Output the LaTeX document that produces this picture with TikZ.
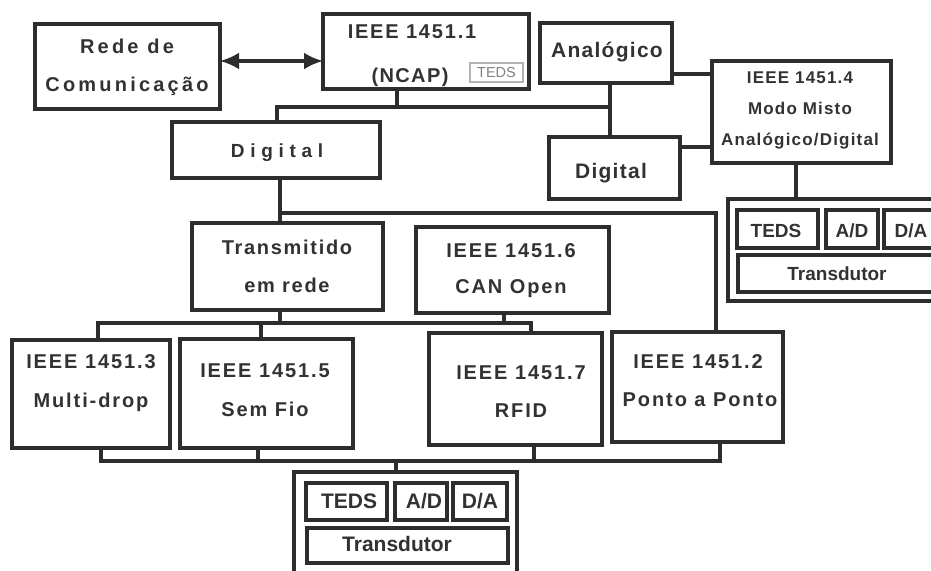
\documentclass[tikz,border=0pt]{standalone}
\usepackage{fontspec}
\setmainfont{Liberation Sans}
\usetikzlibrary{arrows.meta}
\definecolor{lc}{RGB}{45,45,45}
\definecolor{tc}{RGB}{50,50,50}
\newcommand\fs[2]{\fontsize{#1}{#1}\selectfont\bfseries\addfontfeatures{LetterSpace=#2}}
\newcommand\mkbox[6][]{\node[box,#1,minimum width={(#5-#3)*1pt},minimum height={(#6-#4)*1pt}] (#2) at ({(#3+#5)/2},{(#4+#6)/2}) {};}
\tikzset{
  box/.style={draw=lc, line width=3.4pt, inner sep=0pt, outer sep=0pt, rectangle},
  ln/.style={draw=lc, line width=3.4pt},
  tx/.style={text=tc, inner sep=0pt, anchor=base},
  biarrow/.style={{Latex[length=19pt,width=17pt]}-{Latex[length=19pt,width=17pt]}}
}
\begin{document}
\begin{tikzpicture}[x=1pt,y=-1pt]
\useasboundingbox (0,0) rectangle (931,570);
\clip (0,0) rectangle (931,570);
\fill[white] (0,0) rectangle (931,570);
% boxes
\mkbox{rede}{35}{24}{220}{109}
\mkbox{ncap}{323}{14}{529}{89}
\mkbox[draw=gray!60, line width=1.4pt]{tedsS}{470}{63}{523}{82}
\mkbox{analog}{540}{23}{672}{83}
\mkbox{dig1}{172}{122}{380}{178}
\mkbox{dig2}{549}{137}{680}{199}
\mkbox{m4}{712}{61}{891}{163}
\mkbox{rgO}{728}{199}{946}{301}
\mkbox{rgT}{737}{210}{818}{248}
\mkbox{rgA}{826}{210}{878}{248}
\mkbox{rgD}{884}{210}{938}{248}
\mkbox{rgX}{738}{255}{936}{292}
\mkbox{trans}{192}{223}{383}{310}
\mkbox{m6}{416}{227}{609}{313}
\mkbox{m3}{12}{340}{170}{448}
\mkbox{m5}{180}{339}{353}{448}
\mkbox{m7}{429}{333}{602}{445}
\mkbox{m2}{612}{332}{783}{442}
\mkbox{bgO}{294}{472}{517}{600}
\mkbox{bgT}{306}{483}{387}{520}
\mkbox{bgA}{395}{483}{447}{520}
\mkbox{bgD}{453}{483}{507}{520}
\mkbox{bgX}{307}{528}{508}{563}
% texts
\node[tx, font=\fs{20}{16}] (tRede1) at (127,53) {Rede de};
\node[tx, font=\fs{20}{16}] (tRede2) at (127,91) {Comunicação};
\node[tx, font=\fs{20}{9}] (tN1) at (412,38) {IEEE 1451.1};
\node[tx, font=\fs{20}{7}] (tN2) at (410,82) {(NCAP)};
\node[text=gray, inner sep=0pt, font=\fontsize{14.5}{14.5}\selectfont] (tTs) at (tedsS.center) {TEDS};
\node[tx, font=\fs{21}{6}] (tAn) at (607,57) {Analógico};
\node[tx, font=\fs{19}{30}] (tD1) at (277,157) {Digital};
\node[tx, font=\fs{21}{6}] (tD2) at (611,178) {Digital};
\node[tx, font=\fs{17}{7}] (tM4a) at (800,83) {IEEE 1451.4};
\node[tx, font=\fs{17}{7}] (tM4b) at (800,114) {Modo Misto};
\node[tx, font=\fs{17}{7}] (tM4c) at (800,145) {Analógico/Digital};
\node[tx, font=\fs{19}{0}] (tRgT) at (776,237) {TEDS};
\node[tx, font=\fs{19}{0}] (tRgA) at (852,237) {A/D};
\node[tx, font=\fs{19}{0}] (tRgD) at (911,237) {D/A};
\node[tx, font=\fs{19}{0}] (tRgX) at (837,280) {Transdutor};
\node[tx, font=\fs{20}{8.5}] (tTr1) at (287,254) {Transmitido};
\node[tx, font=\fs{20}{8.5}] (tTr2) at (287,292) {em rede};
\node[tx, font=\fs{20}{9.5}] (tM6a) at (511,257) {IEEE 1451.6};
\node[tx, font=\fs{20}{9.5}] (tM6b) at (511,293) {CAN Open};
\node[tx, font=\fs{20}{9.5}] (tM3a) at (91,368) {IEEE 1451.3};
\node[tx, font=\fs{20}{9.5}] (tM3b) at (91,407) {Multi-drop};
\node[tx, font=\fs{20}{9.5}] (tM5a) at (265,377) {IEEE 1451.5};
\node[tx, font=\fs{20}{9.5}] (tM5b) at (265,416) {Sem Fio};
\node[tx, font=\fs{20}{9.5}] (tM7a) at (521,379) {IEEE 1451.7};
\node[tx, font=\fs{20}{9.5}] (tM7b) at (521,417) {RFID};
\node[tx, font=\fs{20}{9.5}] (tM2a) at (698,368) {IEEE 1451.2};
\node[tx, font=\fs{20}{9.5}] (tM2b) at (700,406) {Ponto a Ponto};
\node[tx, font=\fs{21}{0}] (tBgT) at (349,508) {TEDS};
\node[tx, font=\fs{21}{0}] (tBgA) at (424,508) {A/D};
\node[tx, font=\fs{21}{0}] (tBgD) at (480,508) {D/A};
\node[tx, font=\fs{21}{0}] (tBgX) at (397,551) {Transdutor};
% junction coordinates
\coordinate (j1) at (397,107);
\coordinate (j1L) at (277,107);
\coordinate (j1R) at (610,107);
\coordinate (j2) at (280,213);
\coordinate (j2R) at (716,213);
\coordinate (j3) at (280,323);
\coordinate (j3L) at (98,323);
\coordinate (j3R) at (531,323);
\coordinate (j3a) at (261,323);
\coordinate (j3b) at (504,323);
\coordinate (b1) at (101,461);
\coordinate (b2) at (258,461);
\coordinate (b3) at (534,461);
\coordinate (b4) at (720,461);
\coordinate (b5) at (396,461);
\coordinate (r1) at (796,180);
% connectors
\draw[ln, biarrow] (rede.east |- 0,61) -- (ncap.west |- 0,61);
\draw[ln] (ncap.south -| j1) -- (j1);
\draw[ln] (dig1.north -| j1L) -- (j1L) -- (j1R);
\draw[ln] (analog.south -| j1R) -- (dig2.north -| j1R);
\draw[ln] (analog.east |- 0,74) -- (m4.west |- 0,74);
\draw[ln] (dig2.east |- 0,147) -- (m4.west |- 0,147);
\draw[ln] (m4.south -| r1) -- (rgO.north -| r1);
\draw[ln] (dig1.south -| j2) -- (trans.north -| j2);
\draw[ln] (j2) -- (j2R) -- (m2.north -| j2R);
\draw[ln] (trans.south -| j3) -- (j3);
\draw[ln] (m3.north -| j3L) -- (j3L) -- (j3R) -- (m7.north -| j3R);
\draw[ln] (j3a) -- (m5.north -| j3a);
\draw[ln] (m6.south -| j3b) -- (j3b);
\draw[ln] (m3.south -| b1) -- (b1) -- (b4) -- (m2.south -| b4);
\draw[ln] (m5.south -| b2) -- (b2);
\draw[ln] (m7.south -| b3) -- (b3);
\draw[ln] (b5) -- (bgO.north -| b5);
\end{tikzpicture}
\end{document}
